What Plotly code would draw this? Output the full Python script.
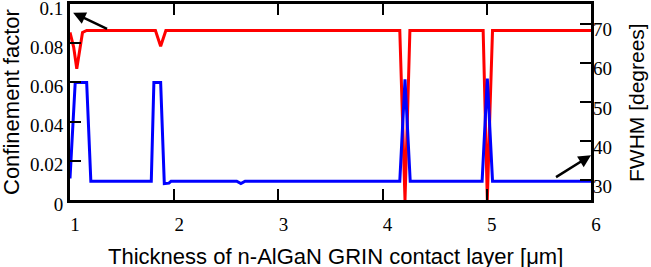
import plotly.graph_objects as go

# Confinement factor (left axis, red)
cf_x = [1.0, 1.035, 1.065, 1.12, 1.16, 1.82, 1.87, 1.92, 4.165, 4.19, 4.215, 4.24, 4.262,
        4.965, 4.985, 5.005, 5.03, 5.055, 6.0]
cf_y = [0.0855, 0.078, 0.067, 0.0855, 0.0865, 0.0865, 0.0785, 0.0865, 0.0865, 0.048, 0.0, 0.045, 0.0865,
        0.0865, 0.048, 0.0, 0.045, 0.0865, 0.0865]

# FWHM (right axis, blue)
fw_x = [1.0, 1.005, 1.05, 1.16, 1.2, 1.78, 1.805, 1.87, 1.905, 1.95, 1.97, 2.6, 2.64, 2.68,
        4.165, 4.215, 4.265, 4.955, 5.005, 5.055, 6.0]
fw_y = [30.5, 33, 55, 55, 29.8, 29.8, 55, 55, 29.2, 29.3, 29.8, 29.8, 29.2, 29.8,
        29.8, 55.8, 29.8, 29.8, 56, 29.8, 29.8]

x_ticks = [1, 2, 3, 4, 5, 6]
y_ticks = [0, 0.02, 0.04, 0.06, 0.08, 0.1]
y_ticktext = ["0", "0.02", "0.04", "0.06", "0.08", "0.1"]
y2_ticks = [30, 40, 50, 60, 70]

x_title = "Thickness of n-AlGaN GRIN contact layer [\u03bcm]"
y_title = "Confinement factor"
y2_title = "FWHM [degrees]"

fig = go.Figure()
fig.add_trace(go.Scatter(x=cf_x, y=cf_y, mode="lines", line=dict(color="#FF0000", width=3),
                         showlegend=False))
fig.add_trace(go.Scatter(x=fw_x, y=fw_y, mode="lines", line=dict(color="#0000FF", width=3),
                         yaxis="y2", showlegend=False))

serif = dict(family="Liberation Serif, Times New Roman, serif", size=19, color="black")
sans = dict(family="Liberation Sans, Arial, sans-serif", size=22, color="black")

L, R, T, B = 70, 60, 4, 67

fig.update_layout(
    width=651, height=267,
    margin=dict(l=L, r=R, t=T, b=B, autoexpand=False),
    plot_bgcolor="white", paper_bgcolor="white",
    xaxis=dict(range=[1, 6], tickvals=x_ticks, ticks="inside", ticklen=11, tickwidth=2,
               tickcolor="black", showline=True, linewidth=3, linecolor="black",
               mirror="ticks", showgrid=False, zeroline=False, tickfont=serif,
               ticklabelstandoff=5, ticklabelshift=5, automargin=False),
    yaxis=dict(range=[-0.00002, 0.10002], tickvals=y_ticks, ticktext=y_ticktext, ticks="inside",
               ticklen=11, tickwidth=2, tickcolor="black", showline=True, linewidth=3,
               linecolor="black", mirror=True, showgrid=False, zeroline=False, tickfont=serif,
               ticklabelstandoff=0, ticklabelshift=4, ticklabeloverflow="allow",
               automargin=False),
    yaxis2=dict(range=[25, 75], tickvals=y2_ticks, overlaying="y", side="right",
                ticks="inside", ticklen=11, tickwidth=2, tickcolor="black", showline=False,
                showgrid=False, zeroline=False, tickfont=serif, ticklabelstandoff=1,
                ticklabelshift=6, ticklabeloverflow="allow", automargin=False),
)

pw, ph = 651 - L - R, 267 - T - B


def px_to_paper(px, py):
    return (px - L) / pw, 1 - (py - T) / ph


ax_, ay_ = px_to_paper(335, 256)
fig.add_annotation(text=x_title, x=ax_, y=ay_, xref="paper", yref="paper", showarrow=False,
                   font=sans, xanchor="center", yanchor="middle", borderpad=0)
ax_, ay_ = px_to_paper(11, 102)
fig.add_annotation(text=y_title, x=ax_, y=ay_, xref="paper", yref="paper", showarrow=False,
                   font=sans, textangle=-90, xanchor="center", yanchor="middle", borderpad=0)
ax_, ay_ = px_to_paper(637, 103)
fig.add_annotation(text=y2_title, x=ax_, y=ay_, xref="paper", yref="paper", showarrow=False,
                   font=dict(family="Liberation Sans, Arial, sans-serif", size=21, color="black"),
                   textangle=-90, xanchor="center", yanchor="middle", borderpad=0)

fig.add_annotation(x=1.03, y=0.0955, ax=1.37, ay=0.087, xref="x", yref="y", axref="x", ayref="y",
                   showarrow=True, arrowhead=2, arrowsize=1, arrowwidth=2.5, arrowcolor="black",
                   text="")
fig.add_annotation(x=6.0, y=36.4, ax=5.65, ay=30.6, xref="x", yref="y2", axref="x", ayref="y2",
                   showarrow=True, arrowhead=2, arrowsize=1, arrowwidth=2.5, arrowcolor="black",
                   text="")

fig.write_html("out.html", config={"displayModeBar": False},
               post_script="document.body.style.margin='0';document.body.style.overflow='hidden';")
